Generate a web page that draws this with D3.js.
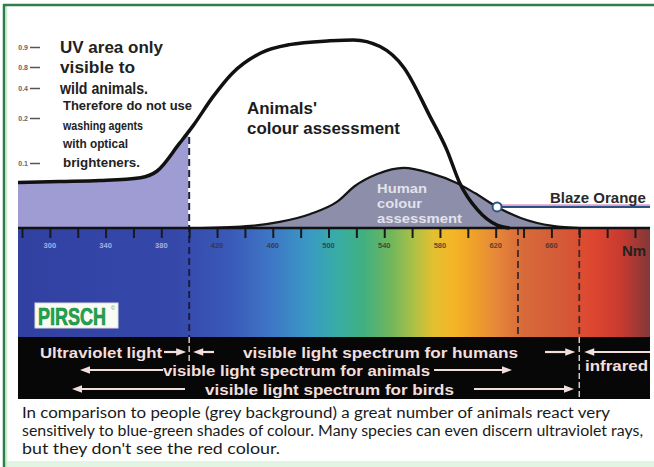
<!DOCTYPE html>
<html>
<head>
<meta charset="utf-8">
<script src="https://cdn.jsdelivr.net/npm/d3@7"></script>
<style>
body { margin: 0; background: #fff; }
svg { display: block; font-family: "Liberation Sans", Arial, sans-serif; }
</style>
</head>
<body>
<div id="chart"></div>
<script>

// sensitivity curves, wavelength in nm, relative sensitivity 0..1
const animalNm  = [277, 307, 336, 365, 377, 393, 403, 417, 431, 451, 472, 501, 518, 537, 554, 573, 585, 594, 607, 621, 630]
const animalVal = [0.24, 0.245, 0.25, 0.265, 0.30, 0.445, 0.54, 0.69, 0.815, 0.92, 0.965, 0.985, 0.99, 0.955, 0.845, 0.585, 0.41, 0.24, 0.095, 0.015, 0]
const humanNm   = [408, 444, 465, 487, 506, 519, 535, 554, 573, 592, 605, 621, 638, 661, 681]
const humanVal  = [0, 0.011, 0.032, 0.074, 0.137, 0.221, 0.284, 0.316, 0.289, 0.237, 0.184, 0.111, 0.053, 0.011, 0]

// wavelength axis
const tickNm  = [280, 300, 320, 340, 360, 380, 400, 420, 440, 460, 480, 500, 520, 540, 560, 580, 600, 620, 640, 660, 680, 700, 720]
const labelNm = [300, 340, 380, 420, 460, 500, 540, 580, 620, 660]
const boundaryNm = [400, 636, 680]

// the odd little scale at the top left
const yTickVal = [0.9, 0.8, 0.4, 0.2, 0.1]

// colour band
const spectrumNm    = [280, 390, 430, 460, 485, 505, 525, 545, 560, 575, 590, 605, 620, 640, 665, 690, 710, 730]
const spectrumColor = ["#3141a2", "#3548aa", "#3a5ab8", "#3e78c6", "#3a98c4", "#38aca8", "#40b080", "#70b65c",
                       "#a8c048", "#e2c030", "#f5b526", "#eea02a", "#e6883a", "#d86a3a", "#d45c38", "#de4630", "#c83a30", "#843838"]

const blazeNm = 621
const blazeVal = 0.111

const caption = [
    "In comparison to people (grey background) a great number of animals react very",
    "sensitively to blue-green shades of colour. Many species can even discern ultraviolet rays,",
    "but they don't see the red colour."
]

const W = 654, H = 467
const baseY = 228, specBottom = 337, bandBottom = 399

let svg = d3.select("#chart")
    .append("svg")
    .attr("width", W)
    .attr("height", H)

let defs = svg.append("defs")

let x = d3.scaleLinear().domain([280, 720]).range([22, 635])
let y = d3.scaleLinear().domain([0, 1]).range([baseY, 38])

// frame
svg.append("rect").attr("x", 4).attr("y", 461).attr("width", 650).attr("height", 6).attr("fill", "#e2f5e2")
svg.append("line").attr("x1", 6.5).attr("x2", 6.5).attr("y1", 6).attr("y2", 467)
    .attr("stroke", "#cdeccd").attr("stroke-width", 1.5)
svg.append("line").attr("x1", 3).attr("x2", 654).attr("y1", 5).attr("y2", 5)
    .attr("stroke", "#2d7d4e").attr("stroke-width", 2.5)
svg.append("line").attr("x1", 4).attr("x2", 4).attr("y1", 4).attr("y2", 467)
    .attr("stroke", "#2d7d4e").attr("stroke-width", 2.5)

defs.append("clipPath").attr("id", "plot")
    .append("rect").attr("x", 18).attr("y", 0).attr("width", 632).attr("height", H)
defs.append("clipPath").attr("id", "uv")
    .append("rect").attr("x", 18).attr("y", 0).attr("width", x(400) - 18).attr("height", baseY)

let grad = defs.append("linearGradient").attr("id", "spec")
    .attr("gradientUnits", "userSpaceOnUse")
    .attr("x1", x(spectrumNm[0])).attr("x2", x(spectrumNm[spectrumNm.length - 1]))
    .attr("y1", 0).attr("y2", 0)
grad.selectAll("stop")
    .data(spectrumNm)
    .enter()
    .append("stop")
    .attr("offset", function(d) { return (d - spectrumNm[0]) / (spectrumNm[spectrumNm.length - 1] - spectrumNm[0]) })
    .attr("stop-color", function(d, i) { return spectrumColor[i] })

let animal = d3.zip(animalNm, animalVal)
let human = d3.zip(humanNm, humanVal)

let line = d3.line()
    .x(function(d) { return x(d[0]) })
    .y(function(d) { return y(d[1]) })
    .curve(d3.curveMonotoneX)
let area = d3.area()
    .x(function(d) { return x(d[0]) })
    .y0(y(0))
    .y1(function(d) { return y(d[1]) })
    .curve(d3.curveMonotoneX)

// area below the animal curve + everything under the baseline
let below = defs.append("clipPath").attr("id", "below")
below.append("path").datum(animal).attr("d", area)
below.append("rect").attr("x", 18).attr("y", baseY).attr("width", 632).attr("height", 200)

let g = svg.append("g").attr("clip-path", "url(#plot)")

g.append("rect").attr("x", 18).attr("y", baseY).attr("width", 632).attr("height", specBottom - baseY)
    .attr("fill", "url(#spec)")
g.append("rect").attr("x", 18).attr("y", specBottom).attr("width", 632).attr("height", bandBottom - specBottom)
    .attr("fill", "#070707")

// UV part
g.append("path").datum(animal).attr("d", area)
    .attr("fill", "#9e9cd2")
    .attr("clip-path", "url(#uv)")

// human
g.append("path").datum(human).attr("d", area).attr("fill", "#8d8eaa")
g.append("path").datum(human).attr("d", line)
    .attr("fill", "none").attr("stroke", "#151515").attr("stroke-width", 2.2)

// boundaries
g.append("line").attr("x1", x(400)).attr("x2", x(400)).attr("y1", 38).attr("y2", baseY)
    .attr("stroke", "#fff").attr("stroke-width", 2).attr("clip-path", "url(#below)")
g.append("line").attr("x1", x(400)).attr("x2", x(400)).attr("y1", 38).attr("y2", specBottom)
    .attr("stroke", "#1c1c44").attr("stroke-width", 2).attr("stroke-dasharray", "7,4")
    .attr("clip-path", "url(#below)")
g.append("line").attr("x1", x(400)).attr("x2", x(400)).attr("y1", specBottom).attr("y2", 362)
    .attr("stroke", "#d8c6c6").attr("stroke-width", 1.5).attr("stroke-dasharray", "6,3")

g.selectAll(".bound")
    .data(boundaryNm.slice(1))
    .enter()
    .append("line")
    .attr("x1", function(d) { return x(d) })
    .attr("x2", function(d) { return x(d) })
    .attr("y1", baseY)
    .attr("y2", specBottom)
    .attr("stroke", "#3a2a2a").attr("stroke-width", 1.8).attr("stroke-dasharray", "7,4")
g.append("line").attr("x1", x(680)).attr("x2", x(680)).attr("y1", specBottom).attr("y2", bandBottom)
    .attr("stroke", "#d8c6c6").attr("stroke-width", 1.5).attr("stroke-dasharray", "6,3")

// animal curve
g.append("path").datum(animal).attr("d", line)
    .attr("fill", "none").attr("stroke", "#111").attr("stroke-width", 3.5)

// wavelength axis on top of the spectrum
let ax = g.append("g")
    .attr("transform", `translate(0, ${baseY})`)
    .call(d3.axisBottom(x).tickValues(tickNm).tickSize(10).tickFormat(""))
ax.select(".domain").remove()
ax.selectAll(".tick line").attr("stroke", "#1a1a1a").attr("stroke-width", 2)
g.append("line").attr("x1", 18).attr("x2", 650).attr("y1", baseY).attr("y2", baseY)
    .attr("stroke", "#111").attr("stroke-width", 2.5)

g.selectAll(".nmlab")
    .data(labelNm)
    .enter()
    .append("text")
    .attr("x", function(d) { return x(d) })
    .attr("y", 248)
    .style("text-anchor", "middle")
    .style("font-size", "7.5px")
    .style("font-weight", "bold")
    .attr("fill", function(d) { return d < 400 ? "#c4c8ec" : "#3a2e2e" })
    .attr("opacity", 0.8)
    .text(function(d) { return d })

g.append("text").attr("x", 622).attr("y", 256)
    .style("font-size", "15px").style("font-weight", "bold").attr("fill", "#222")
    .text("Nm")

// blaze orange marker
g.append("line").attr("x1", x(blazeNm)).attr("x2", 652).attr("y1", y(blazeVal) - 2).attr("y2", y(blazeVal) - 2)
    .attr("stroke", "#d88ab8").attr("stroke-width", 1)
g.append("line").attr("x1", x(blazeNm)).attr("x2", 652).attr("y1", y(blazeVal)).attr("y2", y(blazeVal))
    .attr("stroke", "#2a5288").attr("stroke-width", 2.2)
g.append("circle").attr("cx", x(blazeNm)).attr("cy", y(blazeVal)).attr("r", 4.5)
    .attr("fill", "#fff").attr("stroke", "#2a5288").attr("stroke-width", 2)
g.append("text").attr("x", 550).attr("y", 203)
    .style("font-size", "15px").style("font-weight", "bold").attr("fill", "#2a2a2a")
    .text("Blaze Orange")

// left scale
let yAx = d3.scaleLinear().domain([0.1, 0.2, 0.4, 0.8, 0.9]).range([163, 118, 88, 67, 47])
let yg = svg.append("g")
    .attr("transform", "translate(40, 0)")
    .call(d3.axisLeft(yAx).tickValues(yTickVal).tickSize(10).tickPadding(2).tickFormat(d3.format(".1f")))
yg.select(".domain").remove()
yg.selectAll(".tick line").attr("stroke", "#555").attr("stroke-width", 1.5)
yg.selectAll(".tick text")
    .attr("font-size", null).attr("font-family", null)
    .style("font-size", "7px").style("font-weight", "bold").attr("fill", "#666")
yg.attr("font-size", null).attr("font-family", null)

function textBlock(lines, x0, ys, size, color, lengths) {
    lines.forEach(function(t, i) {
        svg.append("text")
            .attr("x", x0)
            .attr("y", ys[i])
            .attr("textLength", lengths[i])
            .attr("lengthAdjust", "spacingAndGlyphs")
            .style("font-size", size + "px")
            .style("font-weight", "bold")
            .attr("fill", color)
            .text(t)
    })
}

textBlock(["UV area only", "visible to", "wild animals."], 60, [53, 73, 94], 17, "#222", [103, 75, 88])
textBlock(["Therefore do not use", "washing agents", "with optical", "brighteners."], 63, [110, 130, 148, 167], 12, "#222", [129, 80, 65, 77])
textBlock(["Animals'", "colour assessment"], 247, [114, 134], 17, "#1c1c1c", [70, 153])
textBlock(["Human", "colour", "assessment"], 377, [193, 208, 223], 12.5, "#e2e2ea", [50, 45, 85])

// logo
svg.append("rect").attr("x", 35).attr("y", 303).attr("width", 83).attr("height", 25)
    .attr("fill", "#fbfbf6").attr("stroke", "#dcdcdc")
svg.append("text")
    .attr("transform", "translate(38, 325) scale(1, 1.3)")
    .style("font-size", "18px").style("font-weight", "bold").attr("fill", "#1fa34e")
    .attr("stroke", "#178a40").attr("stroke-width", 0.5)
    .text("PIRSCH")
svg.append("text").attr("x", 111).attr("y", 310)
    .style("font-size", "5.5px").attr("fill", "#1fa34e").text("©")

// black band: arrows and labels
const pale = "#f2dfdc"
function arrow(x1, x2, yy) {
    let dir = x2 > x1 ? 1 : -1
    svg.append("line").attr("x1", x1).attr("x2", x2 - dir * 8).attr("y1", yy).attr("y2", yy)
        .attr("stroke", pale).attr("stroke-width", 2.2)
    svg.append("path")
        .attr("d", `M${x2},${yy} L${x2 - dir * 10},${yy - 3.8} L${x2 - dir * 10},${yy + 3.8} Z`)
        .attr("fill", pale)
}
function bandText(t, x0, yy, len) {
    svg.append("text").attr("x", x0).attr("y", yy)
        .attr("textLength", len).attr("lengthAdjust", "spacingAndGlyphs")
        .style("font-size", "15px").style("font-weight", "bold").attr("fill", pale)
        .text(t)
}

bandText("Ultraviolet light", 40, 357.5, 122)
arrow(164, x(400) - 3, 352)
arrow(214, x(400) + 4, 352)
bandText("visible light spectrum for humans", 243, 357.5, 275)
arrow(545, x(680) - 4, 352)
arrow(650, x(680) + 5, 352)

arrow(163, 80, 370)
bandText("visible light spectrum for animals", 163, 375.5, 267)
arrow(434, 512, 370)
bandText("infrared", 585, 371, 63)

arrow(185, 72, 389)
bandText("visible light spectrum for birds", 205, 394.5, 249)
arrow(474, 574, 389)

// caption
const capLen = [588, 621, 258]
caption.forEach(function(t, i) {
    svg.append("text")
        .attr("x", 22)
        .attr("y", 418 + i * 18)
        .attr("textLength", capLen[i])
        .attr("lengthAdjust", "spacingAndGlyphs")
        .style("font-family", "Lato, 'Open Sans', sans-serif")
        .style("font-size", "15.5px")
        .attr("fill", "#1a1a1a")
        .text(t)
})

</script>
</body>
</html>
